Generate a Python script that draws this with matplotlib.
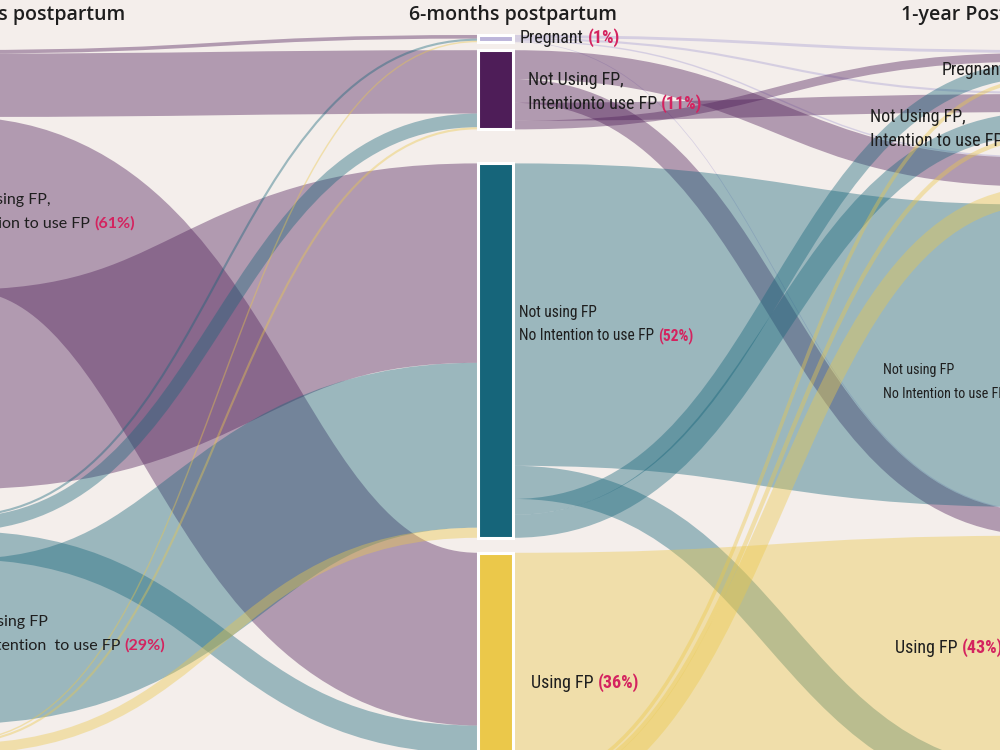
import numpy as np
import matplotlib
matplotlib.use("Agg")
import matplotlib.pyplot as plt
from matplotlib.path import Path
from matplotlib.patches import PathPatch, Rectangle
from matplotlib import font_manager as fm

# ---------------- data ----------------
stage_titles = ["6-weeks postpartum", "6-months postpartum", "1-year Postpartum"]

left_keys = ["A", "B", "C"]
left_lines = [["Not using FP,", "Intention to use FP"],
              ["Not using FP", "No Intention  to use FP"],
              ["Using FP"]]
left_pct = ["(61%)", "(29%)", "(10%)"]

mid_keys = ["P", "I", "N", "U"]
mid_lines = [["Pregnant"],
             ["Not Using FP,", "Intentionto use FP"],
             ["Not using FP", "No Intention to use FP"],
             ["Using FP"]]
mid_pct = ["(1%)", "(11%)", "(52%)", "(36%)"]

right_keys = ["P", "I", "N", "U"]
right_lines = [["Pregnant"],
               ["Not Using FP,", "Intention to use FP"],
               ["Not using FP", "No Intention to use FP"],
               ["Using FP"]]
right_pct = ["(4%)", "(7%)", "(46%)", "(43%)"]

# flows 6 weeks -> 6 months, share of women (%), columns = P, I, N, U at 6 months
flow_A = [0.5, 8.8, 27.7, 24.0]
flow_B = [0.3, 1.9, 22.9, 3.9]
flow_C = [0.2, 0.3, 1.4, 8.1]
# flows 6 months -> 1 year, columns = P, I, N, U at 1 year
flow_mP = [0.4, 0.3, 0.2, 0.1]
flow_mI = [1.2, 2.5, 4.0, 3.3]
flow_mN = [2.2, 3.2, 42.0, 4.6]
flow_mU = [0.5, 0.6, 2.5, 32.4]

# ---------------- style / layout ----------------
BG = "#f4eeeb"
PCT = "#d4235f"
TXT = "#1e1e1e"
COL = {"A": "#4e1d58", "B": "#16657a", "C": "#ebc84a",
       "P": "#bdb5da", "I": "#4e1d58", "N": "#16657a", "U": "#ebc84a"}
LINK_ALPHA = {"P": 0.55}
K = 7.2            # pixels per percent
NODE_W = 35
X_LEFT, X_MID, X_RIGHT = -76, 478, 1043
TOP_LEFT, GAPS_LEFT = 50, [26, 16]
TOP_MID, GAPS_MID = 35, [8, 34, 15]
TOP_RIGHT, GAPS_RIGHT = 50, [11, 17, 4]

# ordering of ribbons on each node (top -> bottom)
src_order_1 = {"A": ["P", "I", "U", "N"], "B": ["P", "I", "U", "N"], "C": ["P", "I", "N", "U"]}
tgt_order_1 = {k: ["A", "B", "C"] for k in mid_keys}
src_order_2 = {"P": ["P", "I", "N", "U"], "I": ["N", "U", "I", "P"],
               "N": ["N", "U", "P", "I"], "U": ["U", "P", "I", "N"]}
tgt_order_2 = {"P": ["P", "I", "N", "U"], "I": ["P", "I", "N", "U"],
               "N": ["P", "I", "U", "N"], "U": ["P", "I", "U", "N"]}

# ---------------- fonts ----------------
names = {f.name for f in fm.fontManager.ttflist}
def has_stretch(name, st):
    return any(f.name == name and str(f.stretch) in st for f in fm.fontManager.ttflist)

if "Liberation Sans Narrow" in names:
    COND, COND_ST = "Liberation Sans Narrow", "normal"
elif "Roboto Condensed" in names:
    COND, COND_ST = "Roboto Condensed", "normal"
elif has_stretch("DejaVu Sans", ("condensed", "semi-condensed", "75", "87")):
    COND, COND_ST = "DejaVu Sans", "condensed"
else:
    COND, COND_ST = "Roboto", "normal"
WIDE = "Lato" if "Lato" in names else ("Open Sans" if "Open Sans" in names else "DejaVu Sans")
TITLE = "Open Sans" if "Open Sans" in names else "DejaVu Sans"

# ---------------- figure ----------------
fig = plt.figure(figsize=(10, 7.5), dpi=100, facecolor=BG)
ax = fig.add_axes([0, 0, 1, 1])
ax.set_facecolor(BG)
ax.set_xlim(0, 1000)
ax.set_ylim(750, 0)
ax.axis("off")

rows1 = {"A": flow_A, "B": flow_B, "C": flow_C}
rows2 = {"P": flow_mP, "I": flow_mI, "N": flow_mN, "U": flow_mU}

left_h = {k: sum(rows1[k]) for k in left_keys}
mid_h = {k: sum(rows1[s][j] for s in left_keys) for j, k in enumerate(mid_keys)}
right_h = {k: sum(rows2[s][j] for s in mid_keys) for j, k in enumerate(right_keys)}

def stack(keys, heights, top, gaps):
    ys, y = {}, top
    for i, k in enumerate(keys):
        ys[k] = y
        y += heights[k] * K + (gaps[i] if i < len(gaps) else 0)
    return ys

left_y = stack(left_keys, left_h, TOP_LEFT, GAPS_LEFT)
mid_y = stack(mid_keys, mid_h, TOP_MID, GAPS_MID)
right_y = stack(right_keys, right_h, TOP_RIGHT, GAPS_RIGHT)

def draw_links(rows, skeys, tkeys, sy, ty, sx, tx, sorder, torder):
    val = {(s, t): rows[s][j] for s in skeys for j, t in enumerate(tkeys)}
    s_off, t_off = {}, {}
    for s in skeys:
        y = sy[s]
        for t in sorder[s]:
            s_off[(s, t)] = y
            y += val[(s, t)] * K
    for t in tkeys:
        y = ty[t]
        for s in torder[t]:
            t_off[(s, t)] = y
            y += val[(s, t)] * K
    xm = (sx + tx) / 2
    for (s, t), v in val.items():
        if v <= 0:
            continue
        w = v * K
        y0 = s_off[(s, t)] + w / 2
        y1 = t_off[(s, t)] + w / 2
        path = Path([(sx, y0), (xm, y0), (xm, y1), (tx, y1)],
                    [Path.MOVETO, Path.CURVE4, Path.CURVE4, Path.CURVE4])
        ax.add_patch(PathPatch(path, facecolor="none", edgecolor=COL[s],
                               alpha=LINK_ALPHA.get(s, 0.4), lw=w * 0.72,
                               capstyle="butt", zorder=1))

draw_links(rows1, left_keys, mid_keys, left_y, mid_y, X_LEFT + NODE_W, X_MID,
           src_order_1, tgt_order_1)
draw_links(rows2, mid_keys, right_keys, mid_y, right_y, X_MID + NODE_W, X_RIGHT,
           src_order_2, tgt_order_2)

def draw_nodes(keys, ys, hs, x):
    for k in keys:
        h = hs[k] * K
        ax.add_patch(Rectangle((x + 2, ys[k] + 2), NODE_W, h, facecolor="#9a9090",
                               alpha=0.25, lw=0, zorder=2))
        ax.add_patch(Rectangle((x, ys[k]), NODE_W, h, facecolor=COL[k],
                               edgecolor="white", lw=2.2, zorder=3))

draw_nodes(left_keys, left_y, left_h, X_LEFT)
draw_nodes(mid_keys, mid_y, mid_h, X_MID)
draw_nodes(right_keys, right_y, right_h, X_RIGHT)

# ---------------- labels ----------------
LINE_H = 24
def label(x, yc, lines, pct, fam, size, stretch="normal"):
    y0 = yc - (len(lines) - 1) * LINE_H / 2
    last = None
    for i, ln in enumerate(lines):
        last = ax.text(x, y0 + i * LINE_H, ln, fontfamily=fam, fontstretch=stretch,
                       fontsize=size, color=TXT, ha="left", va="center", zorder=5)
    ax.annotate(pct, xy=(1, 0), xycoords=last, xytext=(3, 0), textcoords="offset points",
                ha="left", va="bottom", fontfamily=fam, fontstretch=stretch,
                fontsize=size, fontweight="bold", color=PCT, zorder=5)

left_lab_pos = [(-44, 212), (-43, 634), (-44, 800)]
for (x, y), ln, p in zip(left_lab_pos, left_lines, left_pct):
    label(x, y, ln, p, WIDE, 11.5)

mid_lab_pos = [(520, 38), (528, 92), (519, 324), (531, 683)]
mid_sizes = [13, 13, 11.2, 13]
for (x, y), ln, p, s in zip(mid_lab_pos, mid_lines, mid_pct, mid_sizes):
    label(x, y, ln, p, COND, s, COND_ST)

right_lab_pos = [(942, 70), (870, 129), (883, 382), (895, 648)]
right_sizes = [13, 13, 10.2, 13]
for (x, y), ln, p, s in zip(right_lab_pos, right_lines, right_pct, right_sizes):
    label(x, y, ln, p, COND, s, COND_ST)

# stage titles
ax.text(125, 15, stage_titles[0], ha="right", va="center", fontfamily=TITLE,
        fontweight="semibold", fontsize=14, color=TXT, zorder=6)
ax.text(513, 15, stage_titles[1], ha="center", va="center", fontfamily=TITLE,
        fontweight="semibold", fontsize=14, color=TXT, zorder=6)
ax.text(901, 15, stage_titles[2], ha="left", va="center", fontfamily=TITLE,
        fontweight="semibold", fontsize=14, color=TXT, zorder=6)

fig.savefig("out.png", dpi=100, facecolor=BG)
